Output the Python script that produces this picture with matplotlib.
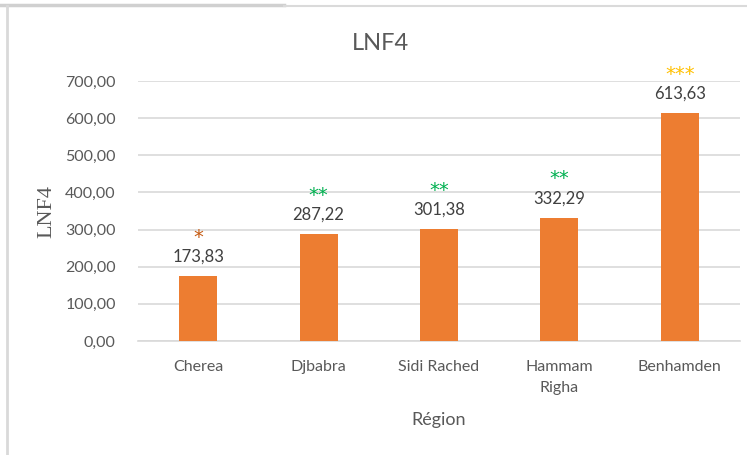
import matplotlib.pyplot as plt
from matplotlib.lines import Line2D

# données
regions = ['Cherea', 'Djbabra', 'Sidi Rached', 'Hammam\nRigha', 'Benhamden']
valeurs = [173.83, 287.22, 301.38, 332.29, 613.63]
etoiles = ['*', '**', '**', '**', '***']
couleurs_etoiles = ['#C55A11', '#00B050', '#00B050', '#00B050', '#FFC000']
yticks = [0, 100, 200, 300, 400, 500, 600, 700]

plt.rcParams['font.family'] = ['Lato', 'DejaVu Sans']
gris = '#595959'

fig = plt.figure(figsize=(7.47, 4.55), dpi=100)
ax = fig.add_axes([0.1847, 0.2505, 0.806, 0.5715])

x = range(len(regions))
bars = ax.bar(x, valeurs, width=0.315, color='#ED7D31', zorder=3)

for i, b in enumerate(bars):
    h = b.get_height()
    cx = b.get_x() + b.get_width() / 2
    lbl = f'{h:.2f}'.replace('.', ',')
    ax.annotate(lbl, (cx, h), xytext=(0, 14), textcoords='offset points',
                ha='center', va='center', fontsize=12, color='#404040')
    ax.annotate(etoiles[i], (cx, h), xytext=(0, 28), textcoords='offset points',
                ha='center', va='center', fontsize=14, color=couleurs_etoiles[i],
                family='DejaVu Sans')

ax.set_xlim(-0.5, len(regions) - 0.5)
ax.set_ylim(0, 700)
ax.set_yticks(yticks)
ax.set_yticklabels([f'{v:.2f}'.replace('.', ',') for v in yticks])
ax.set_xticks(list(x))
ax.set_xticklabels(regions, linespacing=1.6)
ax.tick_params(axis='both', length=0, labelsize=11.5, colors=gris)
ax.tick_params(axis='x', pad=14)
ax.tick_params(axis='y', pad=16)
ax.grid(axis='y', color='#D9D9D9', linewidth=1.2, zorder=0)
for s in ['top', 'right', 'left']:
    ax.spines[s].set_visible(False)
ax.spines['bottom'].set_color('#D9D9D9')
ax.spines['bottom'].set_linewidth(1.2)

ax.set_xlabel('Région', fontsize=13, color=gris, labelpad=12)
ax.set_ylabel('LNF4', fontsize=16, color=gris, family='Liberation Serif', labelpad=6)
fig.text(0.509, 0.905, 'LNF4', ha='center', va='center', fontsize=17, color=gris)

# bordures
fig.add_artist(Line2D([0, 0.38], [0.99, 0.99], color='#D0D0D0', lw=2.5))
fig.add_artist(Line2D([0.38, 1], [0.986, 0.986], color='#DADADA', lw=1.5))
fig.add_artist(Line2D([0.009, 0.009], [0, 0.986], color='#D9D9D9', lw=2))

plt.savefig('out.png', dpi=100)
plt.close()
